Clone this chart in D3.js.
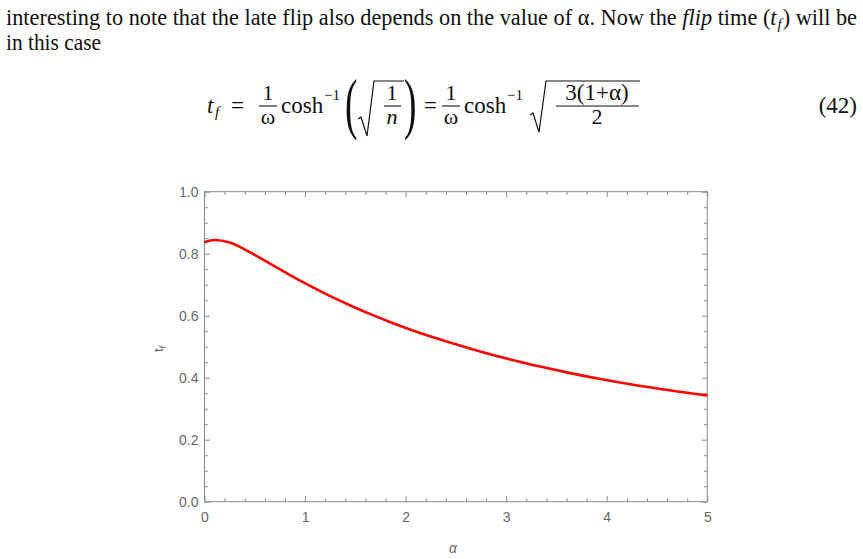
<!DOCTYPE html>
<html>
<head>
<meta charset="utf-8">
<script src="https://cdn.jsdelivr.net/npm/d3@7"></script>
<style>
  body { margin: 0; background: #fff; }
  svg { display: block; }
  .serif { font-family: "Liberation Serif", "Times New Roman", serif; fill: #111; }
</style>
</head>
<body>
<svg id="chart" width="863" height="559"></svg>
<script>
// values
const alpha = [0, 0.1, 0.25, 0.45, 0.65, 0.85, 1.05, 1.25, 1.45, 1.65, 1.85, 2.05, 2.25, 2.45, 2.75, 3.05, 3.35, 3.65, 3.95, 4.25, 4.55, 4.85, 5];
const tf = [0.837, 0.844, 0.836, 0.805, 0.768, 0.731, 0.696, 0.663, 0.633, 0.605, 0.579, 0.555, 0.533, 0.513, 0.484, 0.458, 0.435, 0.414, 0.395, 0.378, 0.363, 0.349, 0.343];

const xMajor = [0, 1, 2, 3, 4, 5];
const yMajor = [0, 0.2, 0.4, 0.6, 0.8, 1.0];
const xLabels = ["0", "1", "2", "3", "4", "5"];
const yLabels = ["0.0", "0.2", "0.4", "0.6", "0.8", "1.0"];

const svg = d3.select('#chart');
const frameColor = '#8a8a8a';
const labelColor = '#686868';
const sans = '"Liberation Sans", Arial, sans-serif';

// ---- paragraph text above the plot ----
const line1 = svg.append('text').attr('class', 'serif')
  .attr('x', 6).attr('y', 25).attr('font-size', 22.5)
  .attr('textLength', 851).attr('lengthAdjust', 'spacingAndGlyphs');
line1.append('tspan').text('interesting to note that the late flip also depends on the value of α. Now the ');
line1.append('tspan').attr('font-style', 'italic').text('flip');
line1.append('tspan').text(' time (');
line1.append('tspan').attr('font-style', 'italic').text('t');
line1.append('tspan').attr('font-style', 'italic').attr('font-size', 15).attr('dx', 1).attr('dy', 4).text('f');
line1.append('tspan').attr('dx', 1).attr('dy', -4).text(') will be');

svg.append('text').attr('class', 'serif')
  .attr('x', 6).attr('y', 50).attr('font-size', 22.5)
  .attr('textLength', 95).attr('lengthAdjust', 'spacingAndGlyphs')
  .text('in this case');

// ---- equation (42) ----
const eq = svg.append('g').attr('class', 'serif');
const eqText = (x, y, s, size, opts = {}) => eq.append('text')
  .attr('x', x).attr('y', y).attr('font-size', size)
  .attr('text-anchor', opts.anchor || 'start')
  .attr('font-style', opts.italic ? 'italic' : 'normal')
  .text(s);
const fracBar = (x1, x2, yy) => eq.append('line')
  .attr('x1', x1).attr('x2', x2).attr('y1', yy).attr('y2', yy)
  .attr('stroke', '#111').attr('stroke-width', 1.1);
const radical = (x0, x1, yTop, yBottom) => eq.append('path')
  .attr('d', `M${x0},${yBottom - 17} L${x0 + 3},${yBottom - 19} L${x0 + 9},${yBottom} L${x0 + 16},${yTop} L${x1},${yTop}`)
  .attr('fill', 'none').attr('stroke', '#111').attr('stroke-width', 1.2);
const bigParen = (x0, s) => eq.append('text')
  .attr('x', x0).attr('y', 126).attr('font-size', 68)
  .attr('transform', `translate(${x0},0) scale(0.55,1) translate(${-x0},0)`)
  .text(s);

const base = 113, num = 100, bar = 106, den = 124;

eqText(207, base, 't', 23, { italic: true });
eqText(215, base + 4, 'f', 15, { italic: true });
eqText(231, base, '=', 23);
eqText(268, num, '1', 22, { anchor: 'middle' });
fracBar(259, 277, bar);
eqText(268, den, 'ω', 22, { anchor: 'middle' });
eqText(281, base, 'cosh', 23);
eqText(324, num, '−1', 15);
bigParen(345, '(');
radical(358, 404, 81, 136);
eqText(392, num, '1', 22, { anchor: 'middle' });
fracBar(384, 401, bar);
eqText(392, den, 'n', 22, { anchor: 'middle', italic: true });
bigParen(404, ')');
eqText(424, base, '=', 23);
eqText(451, num, '1', 22, { anchor: 'middle' });
fracBar(442, 460, bar);
eqText(451, den, 'ω', 22, { anchor: 'middle' });
eqText(464, base, 'cosh', 23);
eqText(507, num, '−1', 15);
radical(530, 640, 81, 132);
eqText(597, num, '3(1+α)', 23, { anchor: 'middle' });
fracBar(556, 639, bar);
eqText(597, den, '2', 22, { anchor: 'middle' });
eqText(857, base, '(42)', 23, { anchor: 'end' });

// ---- plot ----
const plotLeft = 204.5, plotRight = 707.3, plotTop = 191.7, plotBottom = 501.7;

const x = d3.scaleLinear().domain([0, 5]).range([plotLeft, plotRight]);
const y = d3.scaleLinear().domain([0, 1]).range([plotBottom, plotTop]);

const xMinor = d3.range(0, 5.001, 0.2).filter(v => Math.abs(v - Math.round(v)) > 1e-6);
const yMinor = d3.range(0, 1.001, 0.05).filter(v => Math.abs(v * 5 - Math.round(v * 5)) > 1e-6);

const styleAxis = g => {
  g.select('.domain').remove();
  g.selectAll('.tick line').attr('stroke', frameColor).attr('stroke-width', 1);
  g.selectAll('.tick text').attr('fill', labelColor).attr('font-size', 14).attr('font-family', sans);
};

// bottom
svg.append('g').attr('transform', `translate(0,${plotBottom})`)
  .call(d3.axisBottom(x).tickValues(xMajor).tickFormat((d, i) => xLabels[i]).tickSize(-5.5).tickPadding(10))
  .call(styleAxis);
svg.append('g').attr('transform', `translate(0,${plotBottom})`)
  .call(d3.axisBottom(x).tickValues(xMinor).tickFormat('').tickSize(-3.3))
  .call(styleAxis);
// top
svg.append('g').attr('transform', `translate(0,${plotTop})`)
  .call(d3.axisTop(x).tickValues(xMajor).tickFormat('').tickSize(-5.5))
  .call(styleAxis);
svg.append('g').attr('transform', `translate(0,${plotTop})`)
  .call(d3.axisTop(x).tickValues(xMinor).tickFormat('').tickSize(-3.3))
  .call(styleAxis);
// left
svg.append('g').attr('transform', `translate(${plotLeft},0)`)
  .call(d3.axisLeft(y).tickValues(yMajor).tickFormat((d, i) => yLabels[i]).tickSize(-5.5).tickPadding(6))
  .call(styleAxis);
svg.append('g').attr('transform', `translate(${plotLeft},0)`)
  .call(d3.axisLeft(y).tickValues(yMinor).tickFormat('').tickSize(-3.3))
  .call(styleAxis);
// right
svg.append('g').attr('transform', `translate(${plotRight},0)`)
  .call(d3.axisRight(y).tickValues(yMajor).tickFormat('').tickSize(-5.5))
  .call(styleAxis);
svg.append('g').attr('transform', `translate(${plotRight},0)`)
  .call(d3.axisRight(y).tickValues(yMinor).tickFormat('').tickSize(-3.3))
  .call(styleAxis);

// frame
svg.append('rect')
  .attr('x', plotLeft).attr('y', plotTop)
  .attr('width', plotRight - plotLeft).attr('height', plotBottom - plotTop)
  .attr('fill', 'none').attr('stroke', frameColor).attr('stroke-width', 1);

// curve
const pts = alpha.map((a, i) => [a, tf[i]]);
svg.append('path')
  .datum(pts)
  .attr('fill', 'none')
  .attr('stroke', '#ff0000')
  .attr('stroke-width', 2.6)
  .attr('d', d3.line().x(d => x(d[0])).y(d => y(d[1])).curve(d3.curveMonotoneX));

// axis labels
svg.append('text')
  .attr('x', 453).attr('y', 553)
  .attr('text-anchor', 'middle')
  .attr('font-family', sans)
  .attr('font-style', 'italic').attr('font-size', 14).attr('fill', labelColor)
  .text('α');

const yl = svg.append('text')
  .attr('transform', 'translate(163,349) rotate(-90)')
  .attr('text-anchor', 'middle')
  .attr('font-family', sans)
  .attr('font-size', 13).attr('fill', labelColor);
yl.append('tspan').text('t');
yl.append('tspan').attr('font-style', 'italic').attr('font-size', 9).attr('dy', 3).text('f');
</script>
</body>
</html>
